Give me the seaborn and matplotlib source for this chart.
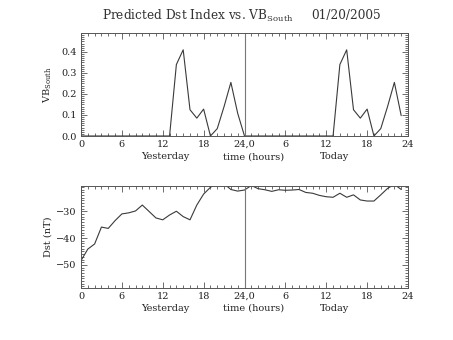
import numpy as np
import pandas as pd
import matplotlib
matplotlib.use("Agg")
import matplotlib.pyplot as plt
from matplotlib.ticker import MultipleLocator, FixedLocator, FixedFormatter
import seaborn as sns

hours = list(range(48))
vb_south = [0, 0, 0, 0, 0, 0, 0, 0, 0, 0, 0, 0, 0, 0,
            0.34, 0.41, 0.125, 0.085, 0.128, 0.0, 0.035, 0.14, 0.255, 0.108,
            0, 0, 0, 0, 0, 0, 0, 0, 0, 0, 0, 0, 0, 0,
            0.34, 0.41, 0.125, 0.085, 0.128, 0.0, 0.035, 0.14, 0.255, 0.097]
dst = [-48.4, -44.1, -42.2, -35.9, -36.4, -33.5, -31.0, -30.6, -29.9, -27.7,
       -30.1, -32.5, -33.2, -31.4, -30.0, -32.0, -33.2, -27.7, -23.6, -21.1,
       -19.5, -19.8, -21.9, -22.5, -22.1, -20.4, -21.6, -22.0, -22.6, -22.0,
       -22.2, -22.1, -21.9, -23.0, -23.3, -24.1, -24.6, -24.8, -23.3, -24.8,
       -23.9, -25.8, -26.2, -26.2, -23.9, -21.5, -20.0, -21.9]
xtick_pos = [0, 6, 12, 18, 24, 30, 36, 42, 48]
xtick_labels = ["0", "6", "12", "18", "24,0", "6", "12", "18", "24"]
vb_ticks = [0.0, 0.1, 0.2, 0.3, 0.4]
vb_tick_labels = ["0.0", "0.1", "0.2", "0.3", "0.4"]
dst_ticks = [-50, -40, -30]
dst_tick_labels = ["\u221250", "\u221240", "\u221230"]

df = pd.DataFrame({"hour": hours, "vb": vb_south, "dst": dst})

sns.set_style("ticks")
plt.rcParams["font.family"] = ["DejaVu Serif"]
plt.rcParams["mathtext.fontset"] = "dejavuserif"

fig = plt.figure(figsize=(4.53, 3.40), dpi=100)
W, H = 453, 340
ax1 = fig.add_axes([81 / W, 1 - 136 / H, 327 / W, 103 / H])
ax2 = fig.add_axes([81 / W, 1 - 288 / H, 327 / W, 102 / H])

line_c = "#3a3a3a"
frame_c = "#555555"

sns.lineplot(data=df, x="hour", y="vb", ax=ax1, color=line_c, linewidth=0.8)
sns.lineplot(data=df, x="hour", y="dst", ax=ax2, color=line_c, linewidth=0.8)

ax1.set_ylim(0, 0.49)
ax2.set_ylim(-58.6, -20.6)

for ax, yt, ytl, yminor in [(ax1, vb_ticks, vb_tick_labels, 0.01),
                             (ax2, dst_ticks, dst_tick_labels, 1)]:
    ax.set_xlim(0, 48)
    ax.xaxis.set_major_locator(FixedLocator(xtick_pos))
    ax.xaxis.set_major_formatter(FixedFormatter(xtick_labels))
    ax.xaxis.set_minor_locator(MultipleLocator(1))
    ax.yaxis.set_major_locator(FixedLocator(yt))
    ax.yaxis.set_major_formatter(FixedFormatter(ytl))
    ax.yaxis.set_minor_locator(MultipleLocator(yminor))
    ax.tick_params(which="both", direction="in", top=True, right=True,
                   colors=frame_c, labelcolor="#222222", labelsize=7, width=0.6)
    ax.tick_params(which="major", length=4.5, pad=3)
    ax.tick_params(which="minor", length=2.2)
    for s in ax.spines.values():
        s.set_color(frame_c)
        s.set_linewidth(0.7)
    ax.axvline(24, color="#777777", linewidth=0.8)
    ax.set_xlabel("")
    ax.set_ylabel("")
    ax.text(12.3, -0.2, "Yesterday", transform=ax.get_xaxis_transform(),
            ha="center", va="center", fontsize=7, color="#222222")
    ax.text(25.3, -0.2, "time (hours)", transform=ax.get_xaxis_transform(),
            ha="center", va="center", fontsize=7, color="#222222")
    ax.text(37.2, -0.2, "Today", transform=ax.get_xaxis_transform(),
            ha="center", va="center", fontsize=7, color="#222222")

ax1.set_ylabel(r"VB$_{\rm South}$", fontsize=7, color="#222222", labelpad=5)
ax2.set_ylabel("Dst (nT)", fontsize=7, color="#222222", labelpad=3)

fig.text(198 / W, 1 - 16 / H, r"Predicted Dst Index vs. VB$_{\rm South}$",
         ha="center", va="center", fontsize=8.7, color="#333333")
fig.text(346 / W, 1 - 15 / H, "01/20/2005", ha="center", va="center",
         fontsize=8.7, color="#333333")

fig.savefig("out.png", dpi=100, facecolor="white")
